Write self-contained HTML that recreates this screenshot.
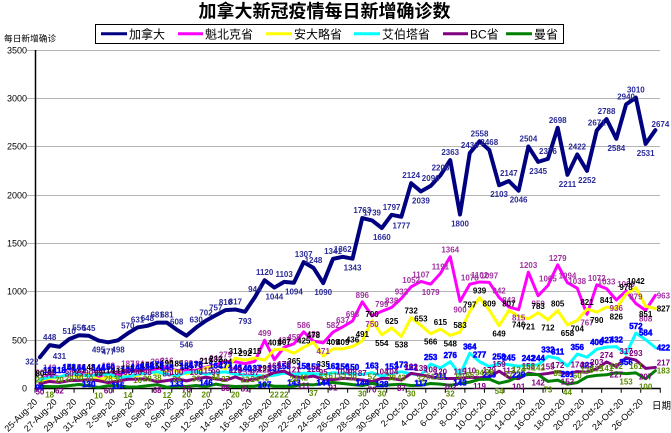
<!DOCTYPE html>
<html><head><meta charset="utf-8"><style>
html,body{margin:0;padding:0;background:#fff;width:671px;height:433px;overflow:hidden}
svg{display:block}
.cj{font-family:"Liberation Sans","Noto Sans CJK SC",sans-serif}
.lb text{font:bold 8px "Liberation Sans",sans-serif;text-anchor:middle}
</style></head><body>
<svg width="671" height="433" viewBox="0 0 671 433" xmlns="http://www.w3.org/2000/svg">
<rect width="671" height="433" fill="#fff"/>
<text class="cj" x="324.5" y="17.5" font-size="18" font-weight="bold" text-anchor="middle" fill="#000">加拿大新冠疫情每日新增确诊数</text>
<rect x="95.5" y="24.5" width="468" height="19" fill="#fff" stroke="#000" stroke-width="1"/>
<g stroke-width="3">
<line x1="101" y1="33.7" x2="127" y2="33.7" stroke="#000080"/>
<line x1="178" y1="33.7" x2="203" y2="33.7" stroke="#ff00ff"/>
<line x1="266" y1="33.7" x2="292" y2="33.7" stroke="#ffff00"/>
<line x1="354" y1="33.7" x2="380" y2="33.7" stroke="#00ffff"/>
<line x1="443" y1="33.7" x2="468" y2="33.7" stroke="#800080"/>
<line x1="506" y1="33.7" x2="532" y2="33.7" stroke="#008000"/>
</g>
<g class="cj" font-size="12" fill="#000">
<text x="129" y="38.3">加拿大</text>
<text x="205" y="38.3">魁北克省</text>
<text x="294" y="38.3">安大略省</text>
<text x="382" y="38.3">艾伯塔省</text>
<text x="470" y="38.3">BC省</text>
<text x="534" y="38.3">曼省</text>
</g>
<text class="cj" x="4" y="41.5" font-size="8.7" fill="#000">每日新增确诊</text>
<path d="M27 50.5H660M27 98.5H660M27 146.5H660M27 195.5H660M27 243.5H660M27 291.5H660M27 340.5H660" stroke="#b4b4b4" stroke-width="1" fill="none"/>
<g font-family="Liberation Sans,sans-serif" font-size="9" text-anchor="end" fill="#000">
<text x="27" y="53.5">3500</text><text x="27" y="101.5">3000</text><text x="27" y="149.5">2500</text><text x="27" y="198.5">2000</text><text x="27" y="246.5">1500</text><text x="27" y="294.5">1000</text><text x="27" y="343.5">500</text><text x="27" y="391.5">0</text>
</g>
<line x1="35.5" y1="50" x2="35.5" y2="389" stroke="#000" stroke-width="1.5"/>
<line x1="35" y1="388.5" x2="660.5" y2="388.5" stroke="#000" stroke-width="1.5"/>
<g transform="translate(39.885 388.4) scale(9.77 -0.0966)" fill="none" stroke-linejoin="round" stroke-linecap="round">
<path vector-effect="non-scaling-stroke" stroke="#000" stroke-width="1" d="M-0.5 0V-41M1.5 0V-41M3.5 0V-41M5.5 0V-41M7.5 0V-41M9.5 0V-41M11.5 0V-41M13.5 0V-41M15.5 0V-41M17.5 0V-41M19.5 0V-41M21.5 0V-41M23.5 0V-41M25.5 0V-41M27.5 0V-41M29.5 0V-41M31.5 0V-41M33.5 0V-41M35.5 0V-41M37.5 0V-41M39.5 0V-41M41.5 0V-41M43.5 0V-41M45.5 0V-41M47.5 0V-41M49.5 0V-41M51.5 0V-41M53.5 0V-41M55.5 0V-41M57.5 0V-41M59.5 0V-41M61.5 0V-41M63.5 0V-41"/>
<polyline vector-effect="non-scaling-stroke" stroke="#000080" stroke-width="4" points="0,322 1,448 2,431 3,510 4,550 5,545 6,495 7,477 8,498 9,570 10,631 11,648 12,681 13,681 14,608 15,546 16,630 17,702 18,757 19,810 20,817 21,793 22,944 23,1120 24,1044 25,1103 26,1094 27,1307 28,1248 29,1090 30,1341 31,1362 32,1343 33,1763 34,1739 35,1660 36,1797 37,1777 38,2124 39,2039 40,2096 41,2206 42,2363 43,1800 44,2436 45,2558 46,2468 47,2103 48,2147 49,2046 50,2504 51,2345 52,2376 53,2698 54,2211 55,2422 56,2252 57,2671 58,2788 59,2584 60,2940 61,3010 62,2531 63,2674"/>
<polyline vector-effect="non-scaling-stroke" stroke="#ff00ff" stroke-width="3" points="0,90 1,142 2,118 3,141 4,150 5,148 6,120 7,163 8,133 9,187 10,184 11,175 12,205 13,216 14,185 15,190 16,188 17,219 18,244 19,279 20,276 21,255 22,280 23,499 24,297 25,427 26,462 27,586 28,489 29,471 30,582 31,637 32,698 33,896 34,750 35,799 36,838 37,932 38,1052 39,1107 40,1079 41,1191 42,1364 43,900 44,1078 45,1102 46,1097 47,942 48,843 49,815 50,1203 51,959 52,1065 53,1279 54,1094 55,1038 56,767 57,1072 58,1033 59,915 60,1009 61,879 62,808 63,963"/>
<polyline vector-effect="non-scaling-stroke" stroke="#ffff00" stroke-width="3" points="0,80 1,100 2,118 3,148 4,121 5,148 6,93 7,114 8,111 9,133 10,132 11,169 12,158 13,190 14,185 15,149 16,170 17,213 18,232 19,204 20,313 21,292 22,315 23,293 24,401 25,407 26,365 27,425 28,478 29,335 30,409 31,409 32,435 33,491 34,700 35,554 36,625 37,538 38,732 39,653 40,566 41,615 42,548 43,583 44,797 45,939 46,809 47,649 48,807 49,746 50,721 51,783 52,712 53,805 54,658 55,704 56,821 57,790 58,841 59,826 60,978 61,1042 62,851 63,827"/>
<polyline vector-effect="non-scaling-stroke" stroke="#00ffff" stroke-width="3" points="0,90 1,117 2,118 3,151 4,144 5,130 6,144 7,150 8,115 9,120 10,148 11,156 12,173 13,145 14,133 15,164 16,173 17,146 18,164 19,171 20,146 21,140 22,137 23,125 24,137 25,158 26,143 27,158 28,152 29,144 30,162 31,156 32,150 33,144 34,163 35,128 36,153 37,173 38,150 39,140 40,253 41,211 42,276 43,143 44,364 45,277 46,226 47,258 48,245 49,229 50,242 51,244 52,332 53,311 54,231 55,356 56,323 57,406 58,427 59,432 60,356 61,572 62,504 63,422"/>
<polyline vector-effect="non-scaling-stroke" stroke="#800080" stroke-width="3" points="0,50 1,72 2,62 3,80 4,83 5,90 6,80 7,60 8,75 9,95 10,96 11,98 12,68 13,80 14,100 15,78 16,100 17,115 18,99 19,85 20,119 21,81 22,97 23,122 24,165 25,179 26,121 27,111 28,128 29,95 30,91 31,104 32,98 33,87 34,70 35,104 36,104 37,87 38,156 39,139 40,121 41,104 42,102 43,104 44,115 45,110 46,119 47,179 48,113 49,101 50,158 51,142 52,155 53,172 54,153 55,174 56,167 57,203 58,274 59,227 60,317 61,293 62,207 63,217"/>
<polyline vector-effect="non-scaling-stroke" stroke="#008000" stroke-width="3" points="0,22 1,18 2,20 3,29 4,40 5,30 6,10 7,28 8,30 9,14 10,16 11,28 12,38 13,12 14,24 15,20 16,30 17,20 18,44 19,27 20,20 21,22 22,24 23,42 24,22 25,22 26,24 27,42 28,37 29,53 30,61 31,51 32,39 33,30 34,52 35,30 36,38 37,43 38,30 39,32 40,51 41,44 42,32 43,50 44,65 45,94 46,96 47,54 48,77 49,124 50,145 51,142 52,73 53,85 54,44 55,60 56,120 57,135 58,141 59,162 60,153 61,161 62,100 63,183"/>
</g>
<g class="lb" transform="translate(39.885 388.4) scale(9.77 -0.0966)">
<g fill="#2b2b99">
<text transform="translate(0 322)scale(.10235 -10.352)" x="-8" y="7">322</text>
<text transform="translate(1 448)scale(.10235 -10.352)" y="-5">448</text>
<text transform="translate(2 431)scale(.10235 -10.352)" y="12">431</text>
<text transform="translate(3 510)scale(.10235 -10.352)" y="-5">510</text>
<text transform="translate(4 550)scale(.10235 -10.352)" y="-5">550</text>
<text transform="translate(5 545)scale(.10235 -10.352)" y="-5">545</text>
<text transform="translate(6 495)scale(.10235 -10.352)" y="12">495</text>
<text transform="translate(7 477)scale(.10235 -10.352)" y="12">477</text>
<text transform="translate(8 498)scale(.10235 -10.352)" y="12">498</text>
<text transform="translate(9 570)scale(.10235 -10.352)" y="-5">570</text>
<text transform="translate(10 631)scale(.10235 -10.352)" y="-5">631</text>
<text transform="translate(11 648)scale(.10235 -10.352)" y="-5">648</text>
<text transform="translate(12 681)scale(.10235 -10.352)" y="-5">681</text>
<text transform="translate(13 681)scale(.10235 -10.352)" y="-5">681</text>
<text transform="translate(14 608)scale(.10235 -10.352)" y="-5">608</text>
<text transform="translate(15 546)scale(.10235 -10.352)" y="12">546</text>
<text transform="translate(16 630)scale(.10235 -10.352)" y="-5">630</text>
<text transform="translate(17 702)scale(.10235 -10.352)" y="-5">702</text>
<text transform="translate(18 757)scale(.10235 -10.352)" y="-5">757</text>
<text transform="translate(19 810)scale(.10235 -10.352)" y="-5">810</text>
<text transform="translate(20 817)scale(.10235 -10.352)" y="-5">817</text>
<text transform="translate(21 793)scale(.10235 -10.352)" y="12">793</text>
<text transform="translate(22 944)scale(.10235 -10.352)" y="-5">944</text>
<text transform="translate(23 1120)scale(.10235 -10.352)" y="-5">1120</text>
<text transform="translate(24 1044)scale(.10235 -10.352)" y="12">1044</text>
<text transform="translate(25 1103)scale(.10235 -10.352)" y="-5">1103</text>
<text transform="translate(26 1094)scale(.10235 -10.352)" y="12">1094</text>
<text transform="translate(27 1307)scale(.10235 -10.352)" y="-5">1307</text>
<text transform="translate(28 1248)scale(.10235 -10.352)" y="-5">1248</text>
<text transform="translate(29 1090)scale(.10235 -10.352)" y="12">1090</text>
<text transform="translate(30 1341)scale(.10235 -10.352)" y="-5">1341</text>
<text transform="translate(31 1362)scale(.10235 -10.352)" y="-5">1362</text>
<text transform="translate(32 1343)scale(.10235 -10.352)" y="12">1343</text>
<text transform="translate(33 1763)scale(.10235 -10.352)" y="-5">1763</text>
<text transform="translate(34 1739)scale(.10235 -10.352)" y="-5">1739</text>
<text transform="translate(35 1660)scale(.10235 -10.352)" y="12">1660</text>
<text transform="translate(36 1797)scale(.10235 -10.352)" y="-5">1797</text>
<text transform="translate(37 1777)scale(.10235 -10.352)" y="12">1777</text>
<text transform="translate(38 2124)scale(.10235 -10.352)" y="-5">2124</text>
<text transform="translate(39 2039)scale(.10235 -10.352)" y="12">2039</text>
<text transform="translate(40 2096)scale(.10235 -10.352)" y="-5">2096</text>
<text transform="translate(41 2206)scale(.10235 -10.352)" y="-5">2206</text>
<text transform="translate(42 2363)scale(.10235 -10.352)" y="-5">2363</text>
<text transform="translate(43 1800)scale(.10235 -10.352)" y="12">1800</text>
<text transform="translate(44 2436)scale(.10235 -10.352)" y="-5">2436</text>
<text transform="translate(45 2558)scale(.10235 -10.352)" y="-5">2558</text>
<text transform="translate(46 2468)scale(.10235 -10.352)" y="-5">2468</text>
<text transform="translate(47 2103)scale(.10235 -10.352)" y="12">2103</text>
<text transform="translate(48 2147)scale(.10235 -10.352)" y="-5">2147</text>
<text transform="translate(49 2046)scale(.10235 -10.352)" y="12">2046</text>
<text transform="translate(50 2504)scale(.10235 -10.352)" y="-5">2504</text>
<text transform="translate(51 2345)scale(.10235 -10.352)" y="12">2345</text>
<text transform="translate(52 2376)scale(.10235 -10.352)" y="-5">2376</text>
<text transform="translate(53 2698)scale(.10235 -10.352)" y="-5">2698</text>
<text transform="translate(54 2211)scale(.10235 -10.352)" y="12">2211</text>
<text transform="translate(55 2422)scale(.10235 -10.352)" y="-5">2422</text>
<text transform="translate(56 2252)scale(.10235 -10.352)" y="12">2252</text>
<text transform="translate(57 2671)scale(.10235 -10.352)" y="-5">2671</text>
<text transform="translate(58 2788)scale(.10235 -10.352)" y="-5">2788</text>
<text transform="translate(59 2584)scale(.10235 -10.352)" y="12">2584</text>
<text transform="translate(60 2940)scale(.10235 -10.352)" y="-5">2940</text>
<text transform="translate(61 3010)scale(.10235 -10.352)" y="-5">3010</text>
<text transform="translate(62 2531)scale(.10235 -10.352)" y="12">2531</text>
<text transform="translate(63 2674)scale(.10235 -10.352)" x="5" y="-3">2674</text>
</g>
<g fill="#a0329f">
<text transform="translate(0 90)scale(.10235 -10.352)" y="-4">90</text>
<text transform="translate(1 142)scale(.10235 -10.352)" y="-4">142</text>
<text transform="translate(2 118)scale(.10235 -10.352)" y="-4">118</text>
<text transform="translate(3 141)scale(.10235 -10.352)" y="-4">141</text>
<text transform="translate(4 150)scale(.10235 -10.352)" y="-4">150</text>
<text transform="translate(5 148)scale(.10235 -10.352)" y="-4">148</text>
<text transform="translate(6 120)scale(.10235 -10.352)" y="-4">120</text>
<text transform="translate(7 163)scale(.10235 -10.352)" y="-4">163</text>
<text transform="translate(8 133)scale(.10235 -10.352)" y="-4">133</text>
<text transform="translate(9 187)scale(.10235 -10.352)" y="-4">187</text>
<text transform="translate(10 184)scale(.10235 -10.352)" y="-4">184</text>
<text transform="translate(11 175)scale(.10235 -10.352)" y="-4">175</text>
<text transform="translate(12 205)scale(.10235 -10.352)" y="-4">205</text>
<text transform="translate(13 216)scale(.10235 -10.352)" y="-4">216</text>
<text transform="translate(14 185)scale(.10235 -10.352)" y="-4">185</text>
<text transform="translate(15 190)scale(.10235 -10.352)" y="-4">190</text>
<text transform="translate(16 188)scale(.10235 -10.352)" y="-4">188</text>
<text transform="translate(17 219)scale(.10235 -10.352)" y="-4">219</text>
<text transform="translate(18 244)scale(.10235 -10.352)" y="-4">244</text>
<text transform="translate(19 279)scale(.10235 -10.352)" y="-4">279</text>
<text transform="translate(20 276)scale(.10235 -10.352)" y="11">276</text>
<text transform="translate(21 255)scale(.10235 -10.352)" y="11">255</text>
<text transform="translate(22 280)scale(.10235 -10.352)" y="11">303</text>
<text transform="translate(23 499)scale(.10235 -10.352)" y="-4">499</text>
<text transform="translate(24 297)scale(.10235 -10.352)" y="11">297</text>
<text transform="translate(25 427)scale(.10235 -10.352)" y="-4">427</text>
<text transform="translate(26 462)scale(.10235 -10.352)" y="-4">458</text>
<text transform="translate(27 586)scale(.10235 -10.352)" y="-4">586</text>
<text transform="translate(28 489)scale(.10235 -10.352)" y="-4">489</text>
<text transform="translate(29 471)scale(.10235 -10.352)" y="11">471</text>
<text transform="translate(30 582)scale(.10235 -10.352)" y="-4">582</text>
<text transform="translate(31 637)scale(.10235 -10.352)" y="-4">637</text>
<text transform="translate(32 698)scale(.10235 -10.352)" y="-4">698</text>
<text transform="translate(33 896)scale(.10235 -10.352)" y="-4">896</text>
<text transform="translate(34 750)scale(.10235 -10.352)" y="11">750</text>
<text transform="translate(35 799)scale(.10235 -10.352)" y="-4">799</text>
<text transform="translate(36 838)scale(.10235 -10.352)" y="-4">838</text>
<text transform="translate(37 932)scale(.10235 -10.352)" y="-4">932</text>
<text transform="translate(38 1052)scale(.10235 -10.352)" y="-4">1052</text>
<text transform="translate(39 1107)scale(.10235 -10.352)" y="-4">1107</text>
<text transform="translate(40 1079)scale(.10235 -10.352)" y="11">1079</text>
<text transform="translate(41 1191)scale(.10235 -10.352)" y="-4">1191</text>
<text transform="translate(42 1364)scale(.10235 -10.352)" y="-4">1364</text>
<text transform="translate(43 900)scale(.10235 -10.352)" y="11">900</text>
<text transform="translate(44 1078)scale(.10235 -10.352)" y="-4">1078</text>
<text transform="translate(45 1102)scale(.10235 -10.352)" y="-4">1102</text>
<text transform="translate(46 1097)scale(.10235 -10.352)" y="-4">1097</text>
<text transform="translate(47 942)scale(.10235 -10.352)" y="-4">942</text>
<text transform="translate(48 843)scale(.10235 -10.352)" y="-4">843</text>
<text transform="translate(49 815)scale(.10235 -10.352)" y="11">815</text>
<text transform="translate(50 1203)scale(.10235 -10.352)" y="-4">1203</text>
<text transform="translate(51 959)scale(.10235 -10.352)" y="11">959</text>
<text transform="translate(52 1065)scale(.10235 -10.352)" y="-4">1065</text>
<text transform="translate(53 1279)scale(.10235 -10.352)" y="-4">1279</text>
<text transform="translate(54 1094)scale(.10235 -10.352)" y="-4">1094</text>
<text transform="translate(55 1038)scale(.10235 -10.352)" y="-4">1038</text>
<text transform="translate(56 767)scale(.10235 -10.352)" y="11">767</text>
<text transform="translate(57 1072)scale(.10235 -10.352)" y="-4">1072</text>
<text transform="translate(58 1033)scale(.10235 -10.352)" y="-4">1033</text>
<text transform="translate(59 915)scale(.10235 -10.352)" y="11">936</text>
<text transform="translate(60 1009)scale(.10235 -10.352)" y="-4">1009</text>
<text transform="translate(61 879)scale(.10235 -10.352)" y="-4">879</text>
<text transform="translate(62 808)scale(.10235 -10.352)" y="11">808</text>
<text transform="translate(63 963)scale(.10235 -10.352)" x="8" y="3">963</text>
</g>
<g fill="#000">
<text transform="translate(0 80)scale(.10235 -10.352)" y="-4">80</text>
<text transform="translate(1 100)scale(.10235 -10.352)" y="-4">100</text>
<text transform="translate(2 118)scale(.10235 -10.352)" y="-4">118</text>
<text transform="translate(3 148)scale(.10235 -10.352)" y="-4">148</text>
<text transform="translate(4 121)scale(.10235 -10.352)" y="-4">121</text>
<text transform="translate(5 148)scale(.10235 -10.352)" y="-4">148</text>
<text transform="translate(6 93)scale(.10235 -10.352)" y="-4">93</text>
<text transform="translate(7 114)scale(.10235 -10.352)" y="-4">114</text>
<text transform="translate(8 111)scale(.10235 -10.352)" y="-4">111</text>
<text transform="translate(9 133)scale(.10235 -10.352)" y="-4">133</text>
<text transform="translate(10 132)scale(.10235 -10.352)" y="-4">132</text>
<text transform="translate(11 169)scale(.10235 -10.352)" y="-4">169</text>
<text transform="translate(12 158)scale(.10235 -10.352)" y="-4">158</text>
<text transform="translate(13 190)scale(.10235 -10.352)" y="-4">190</text>
<text transform="translate(14 185)scale(.10235 -10.352)" y="-4">185</text>
<text transform="translate(15 149)scale(.10235 -10.352)" y="-4">149</text>
<text transform="translate(16 170)scale(.10235 -10.352)" y="-4">170</text>
<text transform="translate(17 213)scale(.10235 -10.352)" y="-4">213</text>
<text transform="translate(18 232)scale(.10235 -10.352)" y="-4">232</text>
<text transform="translate(19 204)scale(.10235 -10.352)" y="-4">204</text>
<text transform="translate(20 313)scale(.10235 -10.352)" y="-4">313</text>
<text transform="translate(21 292)scale(.10235 -10.352)" y="-4">292</text>
<text transform="translate(22 315)scale(.10235 -10.352)" y="-4">315</text>
<text transform="translate(23 293)scale(.10235 -10.352)" y="11">293</text>
<text transform="translate(24 401)scale(.10235 -10.352)" y="-4">401</text>
<text transform="translate(25 407)scale(.10235 -10.352)" y="-4">407</text>
<text transform="translate(26 365)scale(.10235 -10.352)" y="11">365</text>
<text transform="translate(27 425)scale(.10235 -10.352)" y="-4">425</text>
<text transform="translate(28 478)scale(.10235 -10.352)" y="-4">478</text>
<text transform="translate(29 335)scale(.10235 -10.352)" y="11">335</text>
<text transform="translate(30 409)scale(.10235 -10.352)" y="-4">409</text>
<text transform="translate(31 409)scale(.10235 -10.352)" y="-4">409</text>
<text transform="translate(32 435)scale(.10235 -10.352)" y="-4">436</text>
<text transform="translate(33 491)scale(.10235 -10.352)" y="-4">491</text>
<text transform="translate(34 700)scale(.10235 -10.352)" y="-4">700</text>
<text transform="translate(35 554)scale(.10235 -10.352)" y="11">554</text>
<text transform="translate(36 625)scale(.10235 -10.352)" y="-4">625</text>
<text transform="translate(37 538)scale(.10235 -10.352)" y="11">538</text>
<text transform="translate(38 732)scale(.10235 -10.352)" y="-4">732</text>
<text transform="translate(39 653)scale(.10235 -10.352)" y="-4">653</text>
<text transform="translate(40 566)scale(.10235 -10.352)" y="11">566</text>
<text transform="translate(41 615)scale(.10235 -10.352)" y="-4">615</text>
<text transform="translate(42 548)scale(.10235 -10.352)" y="11">548</text>
<text transform="translate(43 583)scale(.10235 -10.352)" y="-4">583</text>
<text transform="translate(44 797)scale(.10235 -10.352)" y="-4">797</text>
<text transform="translate(45 939)scale(.10235 -10.352)" y="-4">939</text>
<text transform="translate(46 809)scale(.10235 -10.352)" y="-4">809</text>
<text transform="translate(47 649)scale(.10235 -10.352)" y="11">649</text>
<text transform="translate(48 807)scale(.10235 -10.352)" y="-4">807</text>
<text transform="translate(49 746)scale(.10235 -10.352)" y="11">746</text>
<text transform="translate(50 721)scale(.10235 -10.352)" y="11">721</text>
<text transform="translate(51 783)scale(.10235 -10.352)" y="-4">783</text>
<text transform="translate(52 712)scale(.10235 -10.352)" y="11">712</text>
<text transform="translate(53 805)scale(.10235 -10.352)" y="-4">805</text>
<text transform="translate(54 658)scale(.10235 -10.352)" y="11">658</text>
<text transform="translate(55 704)scale(.10235 -10.352)" y="11">704</text>
<text transform="translate(56 821)scale(.10235 -10.352)" y="-4">821</text>
<text transform="translate(57 790)scale(.10235 -10.352)" y="11">790</text>
<text transform="translate(58 841)scale(.10235 -10.352)" y="-4">841</text>
<text transform="translate(59 826)scale(.10235 -10.352)" y="11">826</text>
<text transform="translate(60 978)scale(.10235 -10.352)" y="-4">978</text>
<text transform="translate(61 1042)scale(.10235 -10.352)" y="-4">1042</text>
<text transform="translate(62 851)scale(.10235 -10.352)" y="11">851</text>
<text transform="translate(63 827)scale(.10235 -10.352)" x="8" y="3">827</text>
</g>
<g fill="#0000ff" stroke="#0000ff" stroke-width="0.5">
<text transform="translate(0 90)scale(.10235 -10.352)" y="11">90</text>
<text transform="translate(1 117)scale(.10235 -10.352)" y="-4">117</text>
<text transform="translate(2 118)scale(.10235 -10.352)" y="-4">118</text>
<text transform="translate(3 151)scale(.10235 -10.352)" y="-4">151</text>
<text transform="translate(4 144)scale(.10235 -10.352)" y="-4">144</text>
<text transform="translate(5 130)scale(.10235 -10.352)" y="11">130</text>
<text transform="translate(6 144)scale(.10235 -10.352)" y="-4">144</text>
<text transform="translate(7 150)scale(.10235 -10.352)" y="-4">150</text>
<text transform="translate(8 115)scale(.10235 -10.352)" y="11">115</text>
<text transform="translate(9 120)scale(.10235 -10.352)" y="-4">120</text>
<text transform="translate(10 148)scale(.10235 -10.352)" y="-4">148</text>
<text transform="translate(11 156)scale(.10235 -10.352)" y="-4">156</text>
<text transform="translate(12 173)scale(.10235 -10.352)" y="-4">173</text>
<text transform="translate(13 145)scale(.10235 -10.352)" y="-4">145</text>
<text transform="translate(14 133)scale(.10235 -10.352)" y="11">133</text>
<text transform="translate(15 164)scale(.10235 -10.352)" y="-4">164</text>
<text transform="translate(16 173)scale(.10235 -10.352)" y="-4">173</text>
<text transform="translate(17 146)scale(.10235 -10.352)" y="11">146</text>
<text transform="translate(18 164)scale(.10235 -10.352)" y="-4">164</text>
<text transform="translate(19 171)scale(.10235 -10.352)" y="-4">171</text>
<text transform="translate(20 146)scale(.10235 -10.352)" y="-4">146</text>
<text transform="translate(21 140)scale(.10235 -10.352)" y="-4">140</text>
<text transform="translate(22 137)scale(.10235 -10.352)" y="-4">137</text>
<text transform="translate(23 125)scale(.10235 -10.352)" y="11">107</text>
<text transform="translate(24 137)scale(.10235 -10.352)" y="-4">137</text>
<text transform="translate(25 158)scale(.10235 -10.352)" y="-4">158</text>
<text transform="translate(26 143)scale(.10235 -10.352)" y="11">143</text>
<text transform="translate(27 158)scale(.10235 -10.352)" y="-4">158</text>
<text transform="translate(28 152)scale(.10235 -10.352)" y="-4">152</text>
<text transform="translate(29 144)scale(.10235 -10.352)" y="11">144</text>
<text transform="translate(30 162)scale(.10235 -10.352)" y="-4">162</text>
<text transform="translate(31 156)scale(.10235 -10.352)" y="-4">156</text>
<text transform="translate(32 150)scale(.10235 -10.352)" y="-4">150</text>
<text transform="translate(33 144)scale(.10235 -10.352)" y="11">144</text>
<text transform="translate(34 163)scale(.10235 -10.352)" y="-4">163</text>
<text transform="translate(35 128)scale(.10235 -10.352)" y="11">128</text>
<text transform="translate(36 153)scale(.10235 -10.352)" y="-4">153</text>
<text transform="translate(37 173)scale(.10235 -10.352)" y="-4">173</text>
<text transform="translate(38 150)scale(.10235 -10.352)" y="-4">122</text>
<text transform="translate(39 140)scale(.10235 -10.352)" y="11">117</text>
<text transform="translate(40 253)scale(.10235 -10.352)" y="-4">253</text>
<text transform="translate(41 211)scale(.10235 -10.352)" y="11">211</text>
<text transform="translate(42 276)scale(.10235 -10.352)" y="-4">276</text>
<text transform="translate(43 143)scale(.10235 -10.352)" y="11">143</text>
<text transform="translate(44 364)scale(.10235 -10.352)" y="-4">364</text>
<text transform="translate(45 277)scale(.10235 -10.352)" y="-4">277</text>
<text transform="translate(46 226)scale(.10235 -10.352)" y="11">226</text>
<text transform="translate(47 258)scale(.10235 -10.352)" y="-4">258</text>
<text transform="translate(48 245)scale(.10235 -10.352)" y="-4">245</text>
<text transform="translate(49 229)scale(.10235 -10.352)" y="11">229</text>
<text transform="translate(50 242)scale(.10235 -10.352)" y="-4">242</text>
<text transform="translate(51 244)scale(.10235 -10.352)" y="-4">244</text>
<text transform="translate(52 332)scale(.10235 -10.352)" y="-4">332</text>
<text transform="translate(53 311)scale(.10235 -10.352)" y="-4">311</text>
<text transform="translate(54 231)scale(.10235 -10.352)" y="11">231</text>
<text transform="translate(55 356)scale(.10235 -10.352)" y="-4">356</text>
<text transform="translate(56 323)scale(.10235 -10.352)" y="11">323</text>
<text transform="translate(57 406)scale(.10235 -10.352)" y="-4">406</text>
<text transform="translate(58 427)scale(.10235 -10.352)" y="-4">427</text>
<text transform="translate(59 432)scale(.10235 -10.352)" y="-4">432</text>
<text transform="translate(60 356)scale(.10235 -10.352)" y="11">356</text>
<text transform="translate(61 572)scale(.10235 -10.352)" y="-4">572</text>
<text transform="translate(62 504)scale(.10235 -10.352)" y="-4">584</text>
<text transform="translate(63 422)scale(.10235 -10.352)" x="8" y="3">422</text>
</g>
<g fill="#800080">
<text transform="translate(0 50)scale(.10235 -10.352)" y="11">50</text>
<text transform="translate(1 72)scale(.10235 -10.352)" y="-4">72</text>
<text transform="translate(2 62)scale(.10235 -10.352)" y="11">62</text>
<text transform="translate(3 80)scale(.10235 -10.352)" y="-4">80</text>
<text transform="translate(4 83)scale(.10235 -10.352)" y="-4">83</text>
<text transform="translate(5 90)scale(.10235 -10.352)" y="-4">90</text>
<text transform="translate(6 80)scale(.10235 -10.352)" y="-4">98</text>
<text transform="translate(7 60)scale(.10235 -10.352)" y="11">60</text>
<text transform="translate(8 75)scale(.10235 -10.352)" y="-4">75</text>
<text transform="translate(9 95)scale(.10235 -10.352)" y="-4">95</text>
<text transform="translate(10 96)scale(.10235 -10.352)" y="-4">96</text>
<text transform="translate(11 98)scale(.10235 -10.352)" y="-4">98</text>
<text transform="translate(12 68)scale(.10235 -10.352)" y="11">68</text>
<text transform="translate(13 80)scale(.10235 -10.352)" y="-4">80</text>
<text transform="translate(14 100)scale(.10235 -10.352)" y="-4">100</text>
<text transform="translate(15 78)scale(.10235 -10.352)" y="11">78</text>
<text transform="translate(16 100)scale(.10235 -10.352)" y="-4">100</text>
<text transform="translate(17 115)scale(.10235 -10.352)" y="-4">115</text>
<text transform="translate(18 99)scale(.10235 -10.352)" y="-4">99</text>
<text transform="translate(19 85)scale(.10235 -10.352)" y="11">85</text>
<text transform="translate(20 119)scale(.10235 -10.352)" y="-4">119</text>
<text transform="translate(21 81)scale(.10235 -10.352)" y="11">81</text>
<text transform="translate(22 97)scale(.10235 -10.352)" y="-4">97</text>
<text transform="translate(23 122)scale(.10235 -10.352)" y="-4">122</text>
<text transform="translate(24 165)scale(.10235 -10.352)" y="-4">165</text>
<text transform="translate(25 179)scale(.10235 -10.352)" y="-4">179</text>
<text transform="translate(26 121)scale(.10235 -10.352)" y="-4">121</text>
<text transform="translate(27 111)scale(.10235 -10.352)" y="11">111</text>
<text transform="translate(28 128)scale(.10235 -10.352)" y="-4">128</text>
<text transform="translate(29 95)scale(.10235 -10.352)" y="-4">95</text>
<text transform="translate(30 91)scale(.10235 -10.352)" y="11">91</text>
<text transform="translate(31 104)scale(.10235 -10.352)" y="-4">104</text>
<text transform="translate(32 98)scale(.10235 -10.352)" y="-4">98</text>
<text transform="translate(33 87)scale(.10235 -10.352)" y="-4">87</text>
<text transform="translate(34 70)scale(.10235 -10.352)" y="11">70</text>
<text transform="translate(35 104)scale(.10235 -10.352)" y="-4">104</text>
<text transform="translate(36 104)scale(.10235 -10.352)" y="-4">104</text>
<text transform="translate(37 87)scale(.10235 -10.352)" y="11">87</text>
<text transform="translate(38 156)scale(.10235 -10.352)" y="-4">161</text>
<text transform="translate(39 139)scale(.10235 -10.352)" y="-4">139</text>
<text transform="translate(40 121)scale(.10235 -10.352)" y="-4">108</text>
<text transform="translate(41 104)scale(.10235 -10.352)" y="-4">120</text>
<text transform="translate(42 102)scale(.10235 -10.352)" y="11">102</text>
<text transform="translate(43 104)scale(.10235 -10.352)" y="-4">115</text>
<text transform="translate(44 115)scale(.10235 -10.352)" y="-4">110</text>
<text transform="translate(45 110)scale(.10235 -10.352)" y="11">119</text>
<text transform="translate(46 119)scale(.10235 -10.352)" y="-4">179</text>
<text transform="translate(47 179)scale(.10235 -10.352)" y="-4">159</text>
<text transform="translate(48 113)scale(.10235 -10.352)" y="-4">113</text>
<text transform="translate(49 101)scale(.10235 -10.352)" y="11">101</text>
<text transform="translate(50 158)scale(.10235 -10.352)" y="-4">158</text>
<text transform="translate(51 142)scale(.10235 -10.352)" y="11">142</text>
<text transform="translate(52 155)scale(.10235 -10.352)" y="-4">155</text>
<text transform="translate(53 172)scale(.10235 -10.352)" y="-4">172</text>
<text transform="translate(54 153)scale(.10235 -10.352)" y="11">153</text>
<text transform="translate(55 174)scale(.10235 -10.352)" y="-4">174</text>
<text transform="translate(56 167)scale(.10235 -10.352)" y="-4">167</text>
<text transform="translate(57 203)scale(.10235 -10.352)" y="-4">203</text>
<text transform="translate(58 274)scale(.10235 -10.352)" y="-4">274</text>
<text transform="translate(59 227)scale(.10235 -10.352)" y="11">227</text>
<text transform="translate(60 317)scale(.10235 -10.352)" y="-4">317</text>
<text transform="translate(61 293)scale(.10235 -10.352)" y="-4">293</text>
<text transform="translate(62 207)scale(.10235 -10.352)" y="11">207</text>
<text transform="translate(63 217)scale(.10235 -10.352)" x="8" y="-2">217</text>
</g>
<g fill="#5a8a00">
<text transform="translate(0 22)scale(.10235 -10.352)" y="-4">22</text>
<text transform="translate(1 18)scale(.10235 -10.352)" y="11">18</text>
<text transform="translate(2 20)scale(.10235 -10.352)" y="-4">20</text>
<text transform="translate(3 29)scale(.10235 -10.352)" y="-4">29</text>
<text transform="translate(4 40)scale(.10235 -10.352)" y="-4">40</text>
<text transform="translate(5 30)scale(.10235 -10.352)" y="-4">30</text>
<text transform="translate(6 10)scale(.10235 -10.352)" y="11">10</text>
<text transform="translate(7 28)scale(.10235 -10.352)" y="-4">28</text>
<text transform="translate(8 30)scale(.10235 -10.352)" y="-4">30</text>
<text transform="translate(9 14)scale(.10235 -10.352)" y="11">14</text>
<text transform="translate(10 16)scale(.10235 -10.352)" y="-4">16</text>
<text transform="translate(11 28)scale(.10235 -10.352)" y="-4">28</text>
<text transform="translate(12 38)scale(.10235 -10.352)" y="-4">38</text>
<text transform="translate(13 12)scale(.10235 -10.352)" y="11">12</text>
<text transform="translate(14 24)scale(.10235 -10.352)" y="-4">24</text>
<text transform="translate(15 20)scale(.10235 -10.352)" y="11">20</text>
<text transform="translate(16 30)scale(.10235 -10.352)" y="-4">30</text>
<text transform="translate(17 20)scale(.10235 -10.352)" y="11">20</text>
<text transform="translate(18 44)scale(.10235 -10.352)" y="-4">44</text>
<text transform="translate(19 27)scale(.10235 -10.352)" y="-4">27</text>
<text transform="translate(20 20)scale(.10235 -10.352)" y="11">20</text>
<text transform="translate(21 22)scale(.10235 -10.352)" y="-4">22</text>
<text transform="translate(22 24)scale(.10235 -10.352)" y="-4">24</text>
<text transform="translate(23 42)scale(.10235 -10.352)" y="-4">42</text>
<text transform="translate(24 22)scale(.10235 -10.352)" y="11">22</text>
<text transform="translate(25 22)scale(.10235 -10.352)" y="11">22</text>
<text transform="translate(26 24)scale(.10235 -10.352)" y="-4">24</text>
<text transform="translate(27 42)scale(.10235 -10.352)" y="-4">42</text>
<text transform="translate(28 37)scale(.10235 -10.352)" y="11">37</text>
<text transform="translate(29 53)scale(.10235 -10.352)" y="-4">53</text>
<text transform="translate(30 61)scale(.10235 -10.352)" y="-4">61</text>
<text transform="translate(31 51)scale(.10235 -10.352)" y="-4">51</text>
<text transform="translate(32 39)scale(.10235 -10.352)" y="-4">39</text>
<text transform="translate(33 30)scale(.10235 -10.352)" y="11">30</text>
<text transform="translate(34 52)scale(.10235 -10.352)" y="-4">52</text>
<text transform="translate(35 30)scale(.10235 -10.352)" y="11">30</text>
<text transform="translate(36 38)scale(.10235 -10.352)" y="-4">38</text>
<text transform="translate(37 43)scale(.10235 -10.352)" y="-4">43</text>
<text transform="translate(38 30)scale(.10235 -10.352)" y="11">30</text>
<text transform="translate(39 32)scale(.10235 -10.352)" y="-4">32</text>
<text transform="translate(40 51)scale(.10235 -10.352)" y="-4">51</text>
<text transform="translate(41 44)scale(.10235 -10.352)" y="-4">44</text>
<text transform="translate(42 32)scale(.10235 -10.352)" y="11">32</text>
<text transform="translate(43 50)scale(.10235 -10.352)" y="-4">50</text>
<text transform="translate(44 65)scale(.10235 -10.352)" y="-4">65</text>
<text transform="translate(45 94)scale(.10235 -10.352)" y="-4">94</text>
<text transform="translate(46 96)scale(.10235 -10.352)" y="-4">96</text>
<text transform="translate(47 54)scale(.10235 -10.352)" y="11">54</text>
<text transform="translate(48 77)scale(.10235 -10.352)" y="-4">77</text>
<text transform="translate(49 124)scale(.10235 -10.352)" y="-4">124</text>
<text transform="translate(50 145)scale(.10235 -10.352)" y="-4">145</text>
<text transform="translate(51 142)scale(.10235 -10.352)" y="-4">142</text>
<text transform="translate(52 73)scale(.10235 -10.352)" y="11">73</text>
<text transform="translate(53 85)scale(.10235 -10.352)" y="-4">85</text>
<text transform="translate(54 44)scale(.10235 -10.352)" y="11">44</text>
<text transform="translate(55 60)scale(.10235 -10.352)" y="-4">60</text>
<text transform="translate(56 120)scale(.10235 -10.352)" y="-4">120</text>
<text transform="translate(57 135)scale(.10235 -10.352)" y="-4">135</text>
<text transform="translate(58 141)scale(.10235 -10.352)" y="-4">141</text>
<text transform="translate(59 162)scale(.10235 -10.352)" y="-4">162</text>
<text transform="translate(60 153)scale(.10235 -10.352)" y="11">153</text>
<text transform="translate(61 161)scale(.10235 -10.352)" y="-4">161</text>
<text transform="translate(62 100)scale(.10235 -10.352)" y="11">100</text>
<text transform="translate(63 183)scale(.10235 -10.352)" x="8" y="3">183</text>
</g>
</g>
<g font-family="Liberation Sans,sans-serif" font-size="9" text-anchor="end" fill="#000">
<text transform="translate(37.9 402.5)rotate(-45)">25-Aug-20</text>
<text transform="translate(57.4 402.5)rotate(-45)">27-Aug-20</text>
<text transform="translate(77 402.5)rotate(-45)">29-Aug-20</text>
<text transform="translate(96.5 402.5)rotate(-45)">31-Aug-20</text>
<text transform="translate(116 402.5)rotate(-45)">2-Sep-20</text>
<text transform="translate(135.6 402.5)rotate(-45)">4-Sep-20</text>
<text transform="translate(155.1 402.5)rotate(-45)">6-Sep-20</text>
<text transform="translate(174.7 402.5)rotate(-45)">8-Sep-20</text>
<text transform="translate(194.2 402.5)rotate(-45)">10-Sep-20</text>
<text transform="translate(213.7 402.5)rotate(-45)">12-Sep-20</text>
<text transform="translate(233.3 402.5)rotate(-45)">14-Sep-20</text>
<text transform="translate(252.8 402.5)rotate(-45)">16-Sep-20</text>
<text transform="translate(272.4 402.5)rotate(-45)">18-Sep-20</text>
<text transform="translate(291.9 402.5)rotate(-45)">20-Sep-20</text>
<text transform="translate(311.4 402.5)rotate(-45)">22-Sep-20</text>
<text transform="translate(331 402.5)rotate(-45)">24-Sep-20</text>
<text transform="translate(350.5 402.5)rotate(-45)">26-Sep-20</text>
<text transform="translate(370.1 402.5)rotate(-45)">28-Sep-20</text>
<text transform="translate(389.6 402.5)rotate(-45)">30-Sep-20</text>
<text transform="translate(409.1 402.5)rotate(-45)">2-Oct-20</text>
<text transform="translate(428.7 402.5)rotate(-45)">4-Oct-20</text>
<text transform="translate(448.2 402.5)rotate(-45)">6-Oct-20</text>
<text transform="translate(467.8 402.5)rotate(-45)">8-Oct-20</text>
<text transform="translate(487.3 402.5)rotate(-45)">10-Oct-20</text>
<text transform="translate(506.8 402.5)rotate(-45)">12-Oct-20</text>
<text transform="translate(526.4 402.5)rotate(-45)">14-Oct-20</text>
<text transform="translate(545.9 402.5)rotate(-45)">16-Oct-20</text>
<text transform="translate(565.5 402.5)rotate(-45)">18-Oct-20</text>
<text transform="translate(585 402.5)rotate(-45)">20-Oct-20</text>
<text transform="translate(604.5 402.5)rotate(-45)">22-Oct-20</text>
<text transform="translate(624.1 402.5)rotate(-45)">24-Oct-20</text>
<text transform="translate(643.6 402.5)rotate(-45)">26-Oct-20</text>
</g>
<text class="cj" x="652" y="409" font-size="9.5" fill="#000">日期</text>
</svg>
</body></html>
